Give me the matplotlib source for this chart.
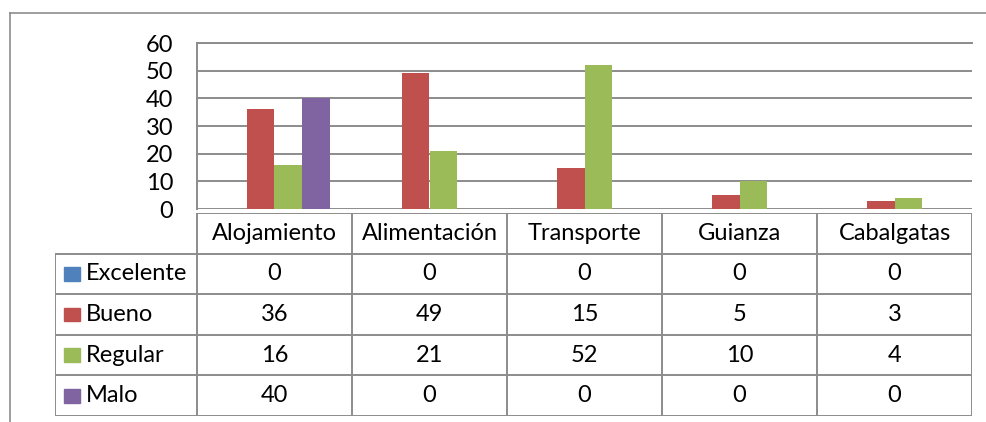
import matplotlib.pyplot as plt
from matplotlib.lines import Line2D
from matplotlib.patches import Rectangle

categorias = ["Alojamiento", "Alimentación", "Transporte", "Guianza", "Cabalgatas"]
series = ["Excelente", "Bueno", "Regular", "Malo"]
excelente = [0, 0, 0, 0, 0]
bueno = [36, 49, 15, 5, 3]
regular = [16, 21, 52, 10, 4]
malo = [40, 0, 0, 0, 0]
colores = ["#4F81BD", "#C0504D", "#9BBB59", "#8064A2"]
yticks = [0, 10, 20, 30, 40, 50, 60]

plt.rcParams['font.family'] = ['Lato', 'DejaVu Sans']
gris = "#8C8C8C"
W, H = 987, 422
fs = 17

fig = plt.figure(figsize=(W / 100, H / 100), dpi=100)

# marco exterior (solo izquierda y arriba)
fig.add_artist(Line2D([10 / W, 10 / W], [0, 1 - 13 / H], color=gris, lw=1.2))
fig.add_artist(Line2D([10 / W, 1], [1 - 13 / H, 1 - 13 / H], color=gris, lw=1.2))

# grafico de barras
ax = fig.add_axes([197 / W, 1 - 209 / H, 775 / W, 166 / H])
valores = [excelente, bueno, regular, malo]
bw = 0.18
for k, (vals, col) in enumerate(zip(valores, colores)):
    xs = [i + 0.5 + (k - 1.5) * bw for i in range(len(categorias))]
    ax.bar(xs, vals, width=bw, color=col, zorder=3)
ax.set_xlim(0, len(categorias))
ax.set_ylim(0, 60)
ax.set_yticks(yticks)
ax.set_xticks([])
ax.grid(axis='y', color=gris, lw=1.4, zorder=0)
for s in ['right', 'bottom']:
    ax.spines[s].set_visible(False)
ax.spines['left'].set_color(gris)
ax.spines['left'].set_linewidth(1.4)
ax.spines['top'].set_color(gris)
ax.spines['top'].set_linewidth(1.4)
ax.tick_params(axis='y', length=0, pad=17, labelsize=fs)

# tabla de datos
tx = fig.add_axes([55 / W, 6 / H, 917 / W, 203 / H])
x0 = -142 / 155
tx.set_xlim(x0, len(categorias))
tx.set_ylim(5, 0)
tx.axis('off')
lk = dict(color=gris, lw=1.4, solid_capstyle='projecting')
tx.plot([0, 5], [0, 0], **lk)
for j in range(1, 6):
    tx.plot([x0, 5], [j, j], **lk)
for i in range(6):
    tx.plot([i, i], [0, 5], **lk)
tx.plot([x0, x0], [1, 5], **lk)

for i, c in enumerate(categorias):
    tx.text(i + 0.5, 0.5, c, ha='center', va='center', fontsize=fs)
for k, (nombre, vals, col) in enumerate(zip(series, valores, colores)):
    y = k + 1.5
    tx.add_patch(Rectangle((x0 + 0.06, y - 0.17), 0.1, 0.34, color=col))
    tx.text(x0 + 0.2, y, nombre, ha='left', va='center', fontsize=fs)
    for i, v in enumerate(vals):
        tx.text(i + 0.5, y, str(v), ha='center', va='center', fontsize=fs)

fig.savefig("out.png", dpi=100)
